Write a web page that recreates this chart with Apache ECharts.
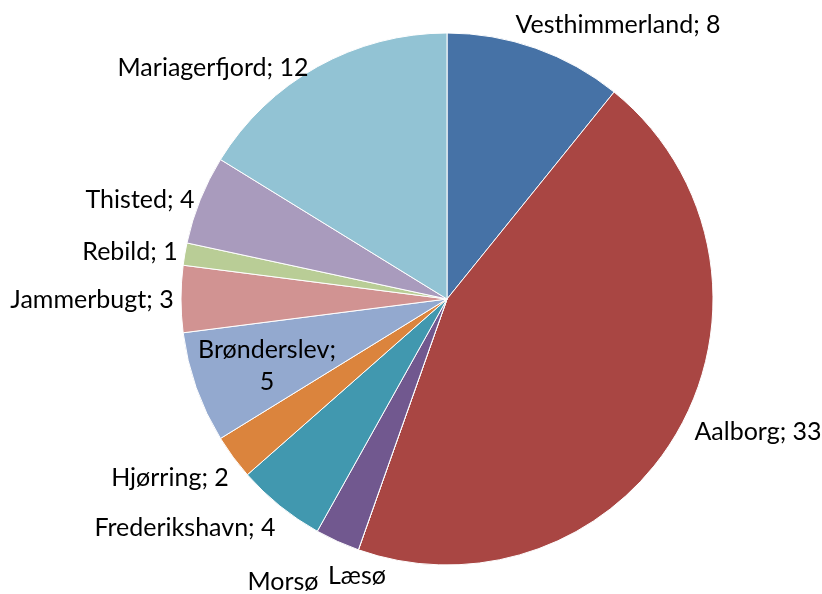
<!DOCTYPE html>
<html>
<head>
<meta charset="utf-8">
<script src="https://cdn.jsdelivr.net/npm/echarts@6/dist/echarts.min.js"></script>
<style>
  html, body { margin: 0; padding: 0; background: #fff; }
  #chart { width: 822px; height: 594px; }
</style>
</head>
<body>
<div id="chart"></div>
<script>
// kommuner, med uret fra toppen
var kommuner = ['Vesthimmerland', 'Aalborg', 'Læsø', 'Morsø', 'Frederikshavn', 'Hjørring',
    'Brønderslev', 'Jammerbugt', 'Rebild', 'Thisted', 'Mariagerfjord'];
var antal = [8, 33, 0, 2, 4, 2, 5, 3, 1, 4, 12];
var farver = ['#4672A6', '#A94643', '#8FAF52', '#71588F', '#4198AF', '#DB843D',
    '#93A9CF', '#D19392', '#B9CD96', '#A99BBD', '#92C3D4'];
// labels uden tal i originalen
var udenTal = ['Læsø', 'Morsø'];
// label-centre (som i Excel "best fit")
var labelPos = [[618, 25], [758, 432], [357, 576], [283, 582], [185, 528], [170, 478],
    [267, 366], [92, 300], [130, 252], [140, 200], [213, 68]];

var chart = echarts.init(document.getElementById('chart'));

var option = {
    backgroundColor: '#fff',
    animation: false,
    series: [{
        type: 'pie',
        center: [447, 299],
        radius: 266,
        startAngle: 90,
        clockwise: true,
        avoidLabelOverlap: false,
        itemStyle: { borderColor: '#fff', borderWidth: 1 },
        label: {
            show: true,
            position: 'outside',
            alignTo: 'none',
            fontFamily: 'Lato',
            fontSize: 25,
            lineHeight: 32,
            color: '#000',
            formatter: function (p) {
                if (udenTal.indexOf(p.name) > -1) return p.name;
                if (p.name === 'Brønderslev') return p.name + ';\n' + p.value;
                return p.name + '; ' + p.value;
            }
        },
        labelLine: { show: false },
        labelLayout: function (params) {
            var pos = labelPos[params.dataIndex];
            return { x: pos[0], y: pos[1], align: 'center', verticalAlign: 'middle' };
        },
        data: kommuner.map(function (k, i) {
            return { name: k, value: antal[i], itemStyle: { color: farver[i] } };
        })
    }]
};

chart.setOption(option);
</script>
</body>
</html>
